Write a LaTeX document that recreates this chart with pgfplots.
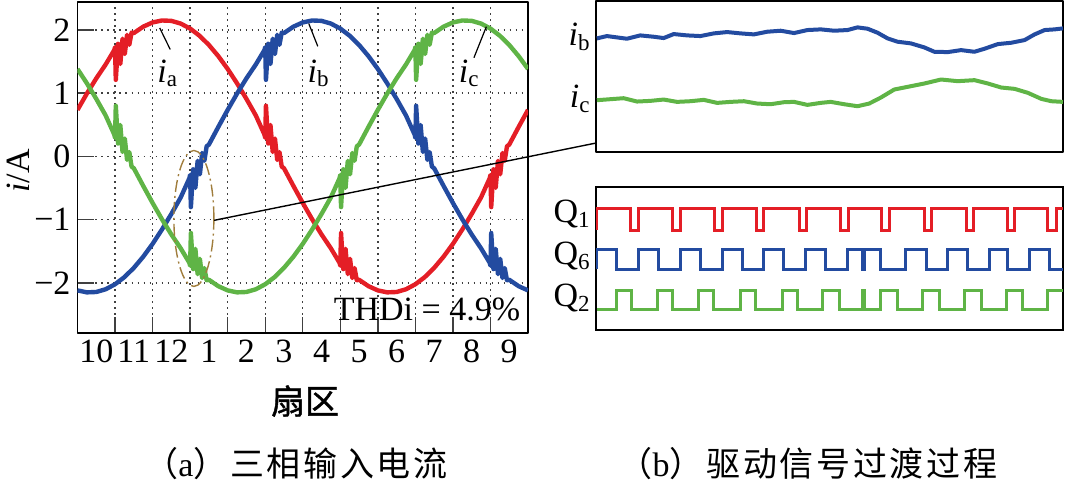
\documentclass[border=0pt]{standalone}
\usepackage{pgfplots}
\pgfplotsset{compat=1.18}
\usepackage{fontspec}
\setmainfont{Liberation Serif}
\newfontfamily\cjk{Noto Sans CJK SC}
\newfontfamily\cjkb[FakeBold=1.2]{Noto Sans CJK SC}
\newfontfamily\cjkcap[LetterSpace=8]{Noto Sans CJK SC}
\definecolor{cr}{RGB}{228,30,38}
\definecolor{cb}{RGB}{35,75,160}
\definecolor{cg}{RGB}{95,180,70}
\definecolor{cel}{RGB}{160,125,60}
\newcommand\fs{\fontsize{17}{17}\selectfont}
\newcommand\sub[1]{\raisebox{-0.3ex}{\fontsize{11.5}{11.5}\selectfont #1}}
\begin{document}
\begin{tikzpicture}
\path[use as bounding box] (0,0) rectangle (532.5pt,243pt);
% ---------------- left panel
\begin{axis}[at={(38.75pt,76.5pt)}, anchor=south west, scale only axis,
  width=225.25pt, height=165.5pt,
  xmin=0, xmax=12, ymin=-2.79, ymax=2.44,
  xtick={1,...,11}, xticklabels={},
  ytick={-2,...,2}, yticklabels={−2,−1,0,1,2},
  extra x ticks={0.5,1.5,...,11.5},
  extra x tick labels={10,11,12,1,2,3,4,5,6,7,8,9},
  extra x tick style={major tick length=0pt, grid=none},
  grid=major, grid style={black!75, line width=0.7pt, dash pattern=on 0.8pt off 2.2pt},
  tick align=inside, xtick pos=bottom, ytick pos=left,
  major tick length=8pt, tick style={black!75, line width=0.7pt},
  axis line style={line width=0.9pt},
  ticklabel style={font=\fs},
  line join=round]
\addplot[cr, line width=2.2pt] coordinates {
(0,0.735)(0.25,0.993)(0.5,1.233)(0.75,1.453)
(0.98,1.681)(1.0,1.727)(1.02,1.210)(1.08,1.780)(1.14,1.460)(1.2,1.860)(1.26,1.618)(1.32,1.921)(1.38,1.764)(1.44,1.956)(1.5,1.949)
(1.75,2.050)(2.0,2.117)(2.25,2.148)(2.5,2.142)(2.75,2.099)(3.0,2.020)(3.25,1.907)(3.5,1.761)(3.75,1.585)(4.0,1.382)(4.25,1.155)(4.5,0.909)(4.75,0.647)
(4.98,0.345)(5.0,0.293)(5.02,0.801)(5.08,0.204)(5.14,0.497)(5.2,0.070)(5.26,0.283)(5.32,-0.055)(5.38,0.068)(5.44,-0.160)(5.5,-0.187)
(5.75,-0.465)(6.0,-0.735)(6.25,-0.993)(6.5,-1.233)(6.75,-1.453)
(6.98,-1.681)(7.0,-1.727)(7.02,-1.210)(7.08,-1.780)(7.14,-1.460)(7.2,-1.860)(7.26,-1.618)(7.32,-1.921)(7.38,-1.764)(7.44,-1.956)(7.5,-1.949)
(7.75,-2.050)(8.0,-2.117)(8.25,-2.148)(8.5,-2.142)(8.75,-2.099)(9.0,-2.020)(9.25,-1.907)(9.5,-1.761)(9.75,-1.585)(10.0,-1.382)(10.25,-1.155)(10.5,-0.909)(10.75,-0.647)
(10.98,-0.345)(11.0,-0.293)(11.02,-0.801)(11.08,-0.204)(11.14,-0.497)(11.2,-0.070)(11.26,-0.283)(11.32,0.055)(11.38,-0.068)(11.44,0.160)(11.5,0.187)
(11.75,0.465)(12.0,0.735)};
\addplot[cb, line width=2.2pt] coordinates {
(0,-2.117)(0.25,-2.148)(0.5,-2.142)(0.75,-2.099)(1.0,-2.020)(1.25,-1.907)(1.5,-1.761)(1.75,-1.585)(2.0,-1.382)(2.25,-1.155)(2.5,-0.909)(2.75,-0.647)
(2.98,-0.345)(3.0,-0.293)(3.02,-0.801)(3.08,-0.204)(3.14,-0.497)(3.2,-0.070)(3.26,-0.283)(3.32,0.055)(3.38,-0.068)(3.44,0.160)(3.5,0.187)
(3.75,0.465)(4.0,0.735)(4.25,0.993)(4.5,1.233)(4.75,1.453)
(4.98,1.681)(5.0,1.727)(5.02,1.210)(5.08,1.780)(5.14,1.460)(5.2,1.860)(5.26,1.618)(5.32,1.921)(5.38,1.764)(5.44,1.956)(5.5,1.949)
(5.75,2.050)(6.0,2.117)(6.25,2.148)(6.5,2.142)(6.75,2.099)(7.0,2.020)(7.25,1.907)(7.5,1.761)(7.75,1.585)(8.0,1.382)(8.25,1.155)(8.5,0.909)(8.75,0.647)
(8.98,0.345)(9.0,0.293)(9.02,0.801)(9.08,0.204)(9.14,0.497)(9.2,0.070)(9.26,0.283)(9.32,-0.055)(9.38,0.068)(9.44,-0.160)(9.5,-0.187)
(9.75,-0.465)(10.0,-0.735)(10.25,-0.993)(10.5,-1.233)(10.75,-1.453)
(10.98,-1.681)(11.0,-1.727)(11.02,-1.210)(11.08,-1.780)(11.14,-1.460)(11.2,-1.860)(11.26,-1.618)(11.32,-1.921)(11.38,-1.764)(11.44,-1.956)(11.5,-1.949)
(11.75,-2.050)(12.0,-2.117)};
\addplot[cg, line width=2.2pt] coordinates {
(0,1.382)(0.25,1.155)(0.5,0.909)(0.75,0.647)
(0.98,0.345)(1.0,0.293)(1.02,0.801)(1.08,0.204)(1.14,0.497)(1.2,0.070)(1.26,0.283)(1.32,-0.055)(1.38,0.068)(1.44,-0.160)(1.5,-0.187)
(1.75,-0.465)(2.0,-0.735)(2.25,-0.993)(2.5,-1.233)(2.75,-1.453)
(2.98,-1.681)(3.0,-1.727)(3.02,-1.210)(3.08,-1.780)(3.14,-1.460)(3.2,-1.860)(3.26,-1.618)(3.32,-1.921)(3.38,-1.764)(3.44,-1.956)(3.5,-1.949)
(3.75,-2.050)(4.0,-2.117)(4.25,-2.148)(4.5,-2.142)(4.75,-2.099)(5.0,-2.020)(5.25,-1.907)(5.5,-1.761)(5.75,-1.585)(6.0,-1.382)(6.25,-1.155)(6.5,-0.909)(6.75,-0.647)
(6.98,-0.345)(7.0,-0.293)(7.02,-0.801)(7.08,-0.204)(7.14,-0.497)(7.2,-0.070)(7.26,-0.283)(7.32,0.055)(7.38,-0.068)(7.44,0.160)(7.5,0.187)
(7.75,0.465)(8.0,0.735)(8.25,0.993)(8.5,1.233)(8.75,1.453)
(8.98,1.681)(9.0,1.727)(9.02,1.210)(9.08,1.780)(9.14,1.460)(9.2,1.860)(9.26,1.618)(9.32,1.921)(9.38,1.764)(9.44,1.956)(9.5,1.949)
(9.75,2.050)(10.0,2.117)(10.25,2.148)(10.5,2.142)(10.75,2.099)(11.0,2.020)(11.25,1.907)(11.5,1.761)(11.75,1.585)(12.0,1.382)};
\draw[black, line width=0.6pt] (axis cs:2.19,2.03) -- (axis cs:2.47,1.69);
\draw[black, line width=0.6pt] (axis cs:6.16,2.10) -- (axis cs:6.40,1.74);
\draw[black, line width=0.6pt] (axis cs:10.89,2.05) -- (axis cs:10.56,1.56);
\node[font=\fs] at (axis cs:2.39,1.31) {\textit{i}\sub{a}};
\node[font=\fs] at (axis cs:6.41,1.31) {\textit{i}\sub{b}};
\node[font=\fs] at (axis cs:10.42,1.31) {\textit{i}\sub{c}};
\node[font=\fs, anchor=east, inner sep=0pt] at (axis cs:11.8,-2.42) {THDi = 4.9\%};
\draw[cel, line width=0.7pt, dash pattern=on 6pt off 2pt on 1pt off 2pt] (axis cs:3.1,-0.98) ellipse [x radius=10pt, y radius=34pt];
\coordinate (E) at (axis cs:3.64,-1.01);
\end{axis}
\draw[black, line width=0.7pt] (E) -- (298.1pt,171.5pt);
\node[font=\fs, rotate=90] at (9pt,157.5pt) {\textit{i}/A};
\node[font=\cjkb\fs] at (152.5pt,42.5pt) {扇区};
\node[font=\fs] at (148pt,11pt) {{\cjk （}a{\cjkcap ）三相输入电流}};
\node[font=\fs] at (404pt,11pt) {{\cjk （}b{\cjkcap ）驱动信号过渡过程}};
% ---------------- right top
\begin{axis}[at={(298.1pt,167pt)}, anchor=south west, scale only axis,
  width=233.4pt, height=75.5pt, xmin=168, xmax=1565, ymin=-455, ymax=-3,
  xtick=\empty, ytick=\empty, axis line style={line width=0.9pt}, line join=round]
\addplot[cb, line width=2pt] coordinates {
(170,-115)(200,-108)(230,-112)(260,-116)(300,-106)(340,-110)(370,-114)(400,-102)(440,-106)(480,-108)(520,-100)(560,-96)(600,-100)(640,-103)(680,-95)(720,-92)(760,-99)(800,-90)(840,-88)(880,-92)(920,-90)(950,-82)(980,-86)(1010,-98)(1040,-115)(1070,-125)(1110,-130)(1150,-142)(1180,-155)(1220,-156)(1260,-150)(1300,-155)(1330,-146)(1370,-132)(1410,-128)(1450,-120)(1480,-103)(1510,-90)(1540,-88)(1565,-85)};
\addplot[cg, line width=2pt] coordinates {
(170,-300)(210,-297)(250,-294)(290,-304)(330,-302)(370,-298)(410,-305)(450,-303)(490,-299)(530,-308)(570,-305)(610,-303)(650,-310)(690,-312)(730,-306)(760,-305)(800,-314)(840,-308)(870,-305)(910,-312)(950,-318)(985,-310)(1020,-292)(1060,-268)(1100,-260)(1150,-250)(1200,-238)(1250,-243)(1300,-240)(1340,-250)(1380,-262)(1420,-266)(1460,-278)(1500,-296)(1530,-303)(1565,-305)};
\end{axis}
\node[font=\fs, anchor=east, inner sep=0pt] at (295pt,224.5pt) {\textit{i}\sub{b}};
\node[font=\fs, anchor=east, inner sep=0pt] at (295pt,193.5pt) {\textit{i}\sub{c}};
% ---------------- right bottom
\begin{axis}[at={(298.1pt,78pt)}, anchor=south west, scale only axis,
  width=233.4pt, height=71.65pt, xmin=168, xmax=1565, ymin=-480, ymax=-50,
  xtick=\empty, ytick=\empty, axis line style={line width=0.9pt}, line join=miter]
\addplot[cr, line width=1.5pt] coordinates {
(170,-180)(170,-115)(272,-115)(272,-180)(295,-180)(295,-115)(397,-115)(397,-180)(420,-180)(420,-115)(522,-115)(522,-180)(545,-180)(545,-115)(648,-115)(648,-180)(670,-180)(670,-115)(775,-115)(775,-180)(797,-180)(797,-115)(900,-115)(900,-180)(922,-180)(922,-115)(1022,-115)(1022,-180)(1045,-180)(1045,-115)(1150,-115)(1150,-180)(1172,-180)(1172,-115)(1275,-115)(1275,-180)(1297,-180)(1297,-115)(1398,-115)(1398,-180)(1420,-180)(1420,-115)(1520,-115)(1520,-180)(1545,-180)(1545,-115)(1565,-115)};
\addplot[cb, line width=1.5pt] coordinates {
(170,-298)(170,-237)(228,-237)(228,-298)(295,-298)(295,-237)(355,-237)(355,-298)(420,-298)(420,-237)(480,-237)(480,-298)(545,-298)(545,-237)(605,-237)(605,-298)(670,-298)(670,-237)(730,-237)(730,-298)(795,-298)(795,-237)(855,-237)(855,-298)(920,-298)(920,-237)(966,-237)(966,-298)(970,-298)(970,-237)(1020,-237)(1020,-298)(1095,-298)(1095,-237)(1155,-237)(1155,-298)(1220,-298)(1220,-237)(1280,-237)(1280,-298)(1345,-298)(1345,-237)(1400,-237)(1400,-298)(1465,-298)(1465,-237)(1525,-237)(1525,-298)(1565,-298)};
\addplot[cg, line width=1.5pt] coordinates {
(170,-420)(230,-420)(230,-360)(275,-360)(275,-420)(350,-420)(350,-360)(395,-360)(395,-420)(475,-420)(475,-360)(520,-360)(520,-420)(600,-420)(600,-360)(645,-360)(645,-420)(725,-420)(725,-360)(770,-360)(770,-420)(845,-420)(845,-360)(895,-360)(895,-420)(966,-420)(966,-360)(970,-360)(970,-420)(1020,-420)(1020,-360)(1070,-360)(1070,-420)(1145,-420)(1145,-360)(1195,-360)(1195,-420)(1270,-420)(1270,-360)(1320,-360)(1320,-420)(1395,-420)(1395,-360)(1445,-360)(1445,-420)(1520,-420)(1520,-360)(1565,-360)};
\end{axis}
\node[font=\fs, anchor=east, inner sep=0pt] at (295pt,136pt) {Q\sub{1}};
\node[font=\fs, anchor=east, inner sep=0pt] at (295pt,115pt) {Q\sub{6}};
\node[font=\fs, anchor=east, inner sep=0pt] at (295pt,94pt) {Q\sub{2}};
\end{tikzpicture}
\end{document}
